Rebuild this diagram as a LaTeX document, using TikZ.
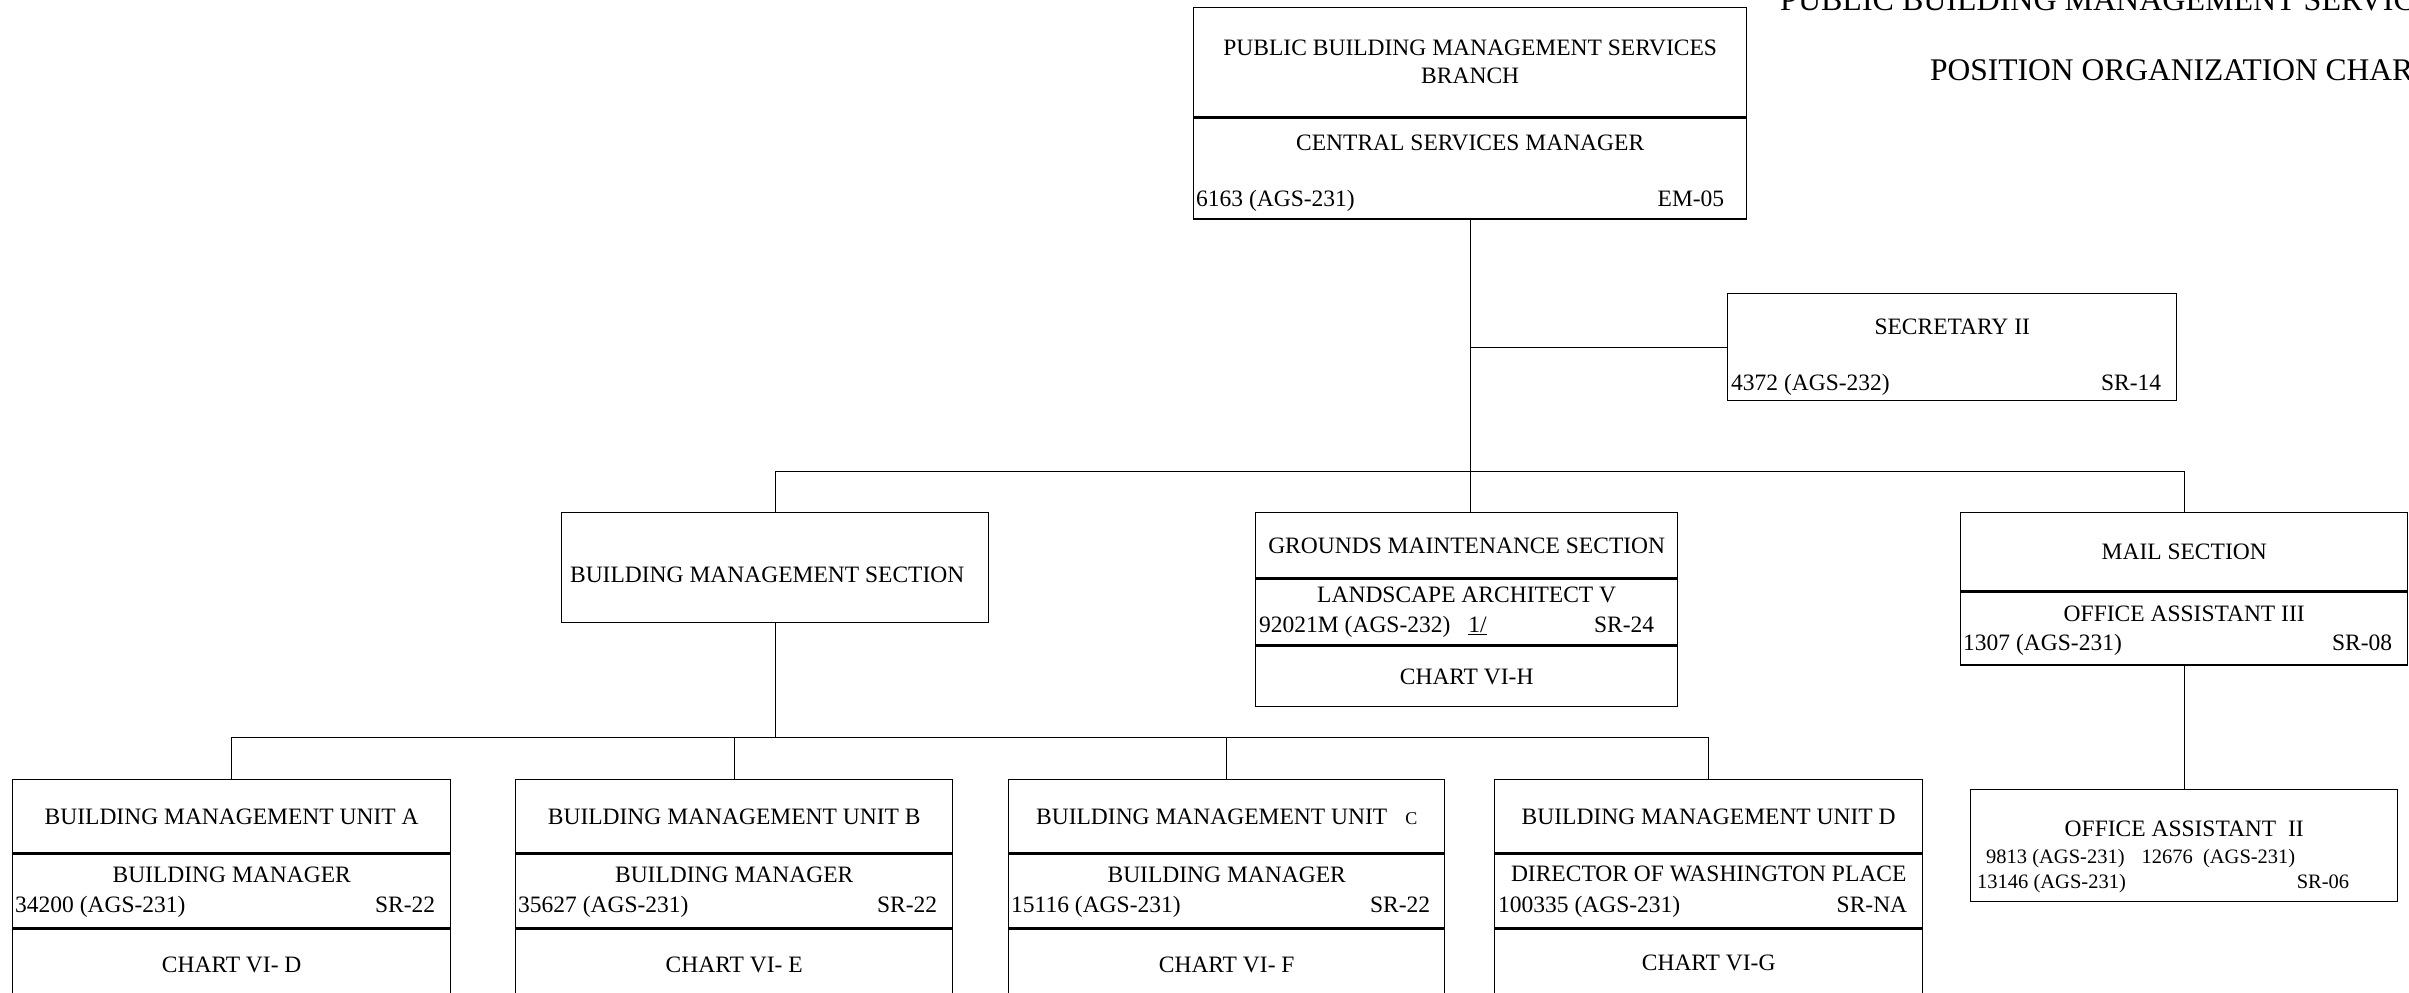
\documentclass[tikz,border=0pt]{standalone}
\usepackage{fontspec}
\setmainfont{Liberation Serif}
\usetikzlibrary{positioning}

\newcommand\chartfont{\fontsize{23.5}{28}\selectfont}
\newcommand\smallchartfont{\fontsize{20.5}{24}\selectfont}

\tikzset{
    part/.style={draw, line width=1.4pt, inner sep=0pt, anchor=north west},
    lbl/.style={inner sep=0pt, font=\chartfont, text height=16pt, text depth=0pt},
    link/.style={line width=1.2pt}
}

\begin{document}
\begin{tikzpicture}[x=1pt, y=-1pt]
    \useasboundingbox (0,0) rectangle (2409,993);

    % Titre (coupé par le bord de la page)
    \node[anchor=base west, inner sep=0pt, font=\fontsize{32}{38}\selectfont] (head) at (1780,10) {PUBLIC BUILDING MANAGEMENT SERVICES BRANCH};
    \node[anchor=base west, inner sep=0pt, font=\fontsize{31.5}{38}\selectfont] (subhead) at (1930,80) {POSITION ORGANIZATION CHART};

    % Branche
    \node[part, font=\chartfont, align=center, minimum width=553pt, minimum height=109pt] (bra) at (1193,7) {PUBLIC BUILDING MANAGEMENT SERVICES\\BRANCH};
    \node[part, minimum width=553pt, minimum height=101pt, below=0pt of bra] (braP) {};
    \node[lbl, below=17pt of braP.north] (braT) {CENTRAL SERVICES MANAGER};
    \node[lbl, above right=13pt and 3pt of braP.south west] (braN) {6163 (AGS-231)};
    \node[lbl, above left=13pt and 23pt of braP.south east] (braG) {EM-05};

    % Secrétaire
    \node[part, minimum width=449pt, minimum height=107pt] (sec) at (1727,293) {};
    \node[lbl, below=25pt of sec.north] (secT) {SECRETARY II};
    \node[lbl, above right=11pt and 4pt of sec.south west] (secN) {4372 (AGS-232)};
    \node[lbl, above left=11pt and 16pt of sec.south east] (secG) {SR-14};

    % Sections
    \node[part, minimum width=427pt, minimum height=110pt] (bms) at (561,512) {};
    \node[lbl, below=54pt of bms.north, xshift=-8pt] (bmsT) {BUILDING MANAGEMENT SECTION};

    \node[part, lbl, minimum width=422pt, minimum height=65pt] (gms) at (1255,512) {GROUNDS MAINTENANCE SECTION};
    \node[part, minimum width=422pt, minimum height=66pt, below=0pt of gms] (gmsP) {};
    \node[lbl, below=8pt of gmsP.north] (gmsT) {LANDSCAPE ARCHITECT V};
    \node[lbl, above right=13pt and 4pt of gmsP.south west] (gmsN) {92021M (AGS-232)\hspace{18pt}\underline{1/}};
    \node[lbl, above left=13pt and 24pt of gmsP.south east] (gmsG) {SR-24};
    \node[part, lbl, minimum width=422pt, minimum height=60pt, below=0pt of gmsP] (gmsC) {CHART VI-H};

    \node[part, lbl, minimum width=447pt, minimum height=78pt] (mail) at (1960,512) {MAIL SECTION};
    \node[part, minimum width=447pt, minimum height=73pt, below=0pt of mail] (mailP) {};
    \node[lbl, below=14pt of mailP.north] (mailT) {OFFICE ASSISTANT III};
    \node[lbl, above right=15pt and 3pt of mailP.south west] (mailN) {1307 (AGS-231)};
    \node[lbl, above left=15pt and 16pt of mailP.south east] (mailG) {SR-08};

    \node[part, minimum width=427pt, minimum height=112pt] (oa) at (1970,789) {};
    \node[lbl, below=31pt of oa.north] (oaT) {OFFICE ASSISTANT\ \ II};
    \node[lbl, font=\smallchartfont, above right=39pt and 16pt of oa.south west] (oaN) {9813 (AGS-231)\hspace{17pt}12676\ \ (AGS-231)};
    \node[lbl, font=\smallchartfont, above right=14pt and 7pt of oa.south west] (oaM) {13146 (AGS-231)};
    \node[lbl, font=\smallchartfont, above left=14pt and 49pt of oa.south east] (oaG) {SR-06};

    % Unités
    \node[part, lbl, minimum width=438pt, minimum height=73pt] (uA) at (12,779) {BUILDING MANAGEMENT UNIT A};
    \node[part, minimum width=438pt, minimum height=74pt, below=0pt of uA] (uAp) {};
    \node[lbl, below=13pt of uAp.north] (uAt) {BUILDING MANAGER};
    \node[lbl, above right=16pt and 3pt of uAp.south west] (uAn) {34200 (AGS-231)};
    \node[lbl, above left=16pt and 16pt of uAp.south east] (uAg) {SR-22};
    \node[part, lbl, minimum width=438pt, minimum height=70pt, below=0pt of uAp] (uAc) {CHART VI- D};

    \node[part, lbl, minimum width=437pt, minimum height=73pt] (uB) at (515,779) {BUILDING MANAGEMENT UNIT B};
    \node[part, minimum width=437pt, minimum height=74pt, below=0pt of uB] (uBp) {};
    \node[lbl, below=13pt of uBp.north] (uBt) {BUILDING MANAGER};
    \node[lbl, above right=16pt and 3pt of uBp.south west] (uBn) {35627 (AGS-231)};
    \node[lbl, above left=16pt and 16pt of uBp.south east] (uBg) {SR-22};
    \node[part, lbl, minimum width=437pt, minimum height=70pt, below=0pt of uBp] (uBc) {CHART VI- E};

    \node[part, lbl, minimum width=436pt, minimum height=73pt] (uC) at (1008,779) {BUILDING MANAGEMENT UNIT\hspace{18pt}{\fontsize{18}{21}\selectfont C}};
    \node[part, minimum width=436pt, minimum height=74pt, below=0pt of uC] (uCp) {};
    \node[lbl, below=13pt of uCp.north] (uCt) {BUILDING MANAGER};
    \node[lbl, above right=16pt and 3pt of uCp.south west] (uCn) {15116 (AGS-231)};
    \node[lbl, above left=16pt and 15pt of uCp.south east] (uCg) {SR-22};
    \node[part, lbl, minimum width=436pt, minimum height=70pt, below=0pt of uCp] (uCc) {CHART VI- F};

    \node[part, lbl, minimum width=428pt, minimum height=73pt] (uD) at (1494,779) {BUILDING MANAGEMENT UNIT D};
    \node[part, minimum width=428pt, minimum height=74pt, below=0pt of uD] (uDp) {};
    \node[lbl, below=12pt of uDp.north] (uDt) {DIRECTOR OF WASHINGTON PLACE};
    \node[lbl, above right=16pt and 4pt of uDp.south west] (uDn) {100335 (AGS-231)};
    \node[lbl, above left=16pt and 16pt of uDp.south east] (uDg) {SR-NA};
    \node[part, lbl, minimum width=428pt, minimum height=65pt, below=0pt of uDp] (uDc) {CHART VI-G};

    % Liaisons
    \path (braP.south) ++(0,252) coordinate (bus1);
    \path (bms.south) ++(0,114) coordinate (bus2);
    \draw[link] (braP.south) -- (braP.south |- gms.north);
    \draw[link] (braP.south |- sec.west) -- (sec.west);
    \draw[link] (bms.north) |- (bus1) -| (mail.north);
    \draw[link] (mailP.south) -- (oa.north);
    \draw[link] (bms.south) -- (bus2);
    \draw[link] (uA.north) |- (bus2) -| (uD.north);
    \draw[link] (uB.north) -- (uB.north |- bus2);
    \draw[link] (uC.north) -- (uC.north |- bus2);
\end{tikzpicture}
\end{document}
